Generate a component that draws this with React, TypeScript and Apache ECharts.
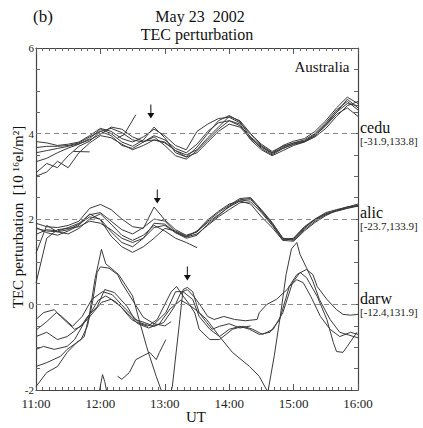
import React, { useEffect, useRef } from 'react';
import * as echarts from 'echarts';

// ---------- axis / label data ----------
const xTickLabels = ['11:00', '12:00', '13:00', '14:00', '15:00', '16:00'];
// minutes after 11:00 UT
const minuteGrid = [0, 10, 20, 30, 40, 50, 60, 70, 80, 90, 100, 110, 120, 130, 140, 150, 160, 170, 180, 190, 200, 210, 220, 230, 240, 250, 260, 270, 280, 290, 300];

const stationNames = ['cedu', 'alic', 'darw'];
const stationCoords = ['[-31.9,133.8]', '[-23.7,133.9]', '[-12.4,131.9]'];
const stationBaselines = [4, 2, 0];
const arrowPoints = [[107, 4.35], [113, 2.36], [141, 0.56]];

// ---------- cedu (offset 4) on 10-minute grid ----------
const cedu1 = [3.81, 3.78, 3.72, 3.75, 3.80, 3.95, 4.12, 4.05, 3.88, 3.80, 3.92, 4.10, 3.95, 3.72, 3.62, 4.05, 4.22, 4.35, 4.38, 4.25, 3.98, 3.75, 3.58, 3.70, 3.78, 3.85, 4.00, 4.25, 4.55, 4.75, 4.55];
const cedu2 = [3.67, 3.70, 3.70, 3.72, 3.78, 3.92, 4.05, 4.12, 4.02, 3.85, 3.80, 3.95, 3.85, 3.65, 3.55, 3.75, 4.05, 4.25, 4.30, 4.18, 3.92, 3.70, 3.52, 3.68, 3.78, 3.82, 3.95, 4.18, 4.45, 4.60, 4.40];
const cedu3 = [3.55, 3.60, 3.65, 3.70, 3.76, 3.85, 3.98, 4.15, 4.10, 3.92, 3.82, 3.85, 3.78, 3.60, 3.50, 3.62, 3.90, 4.15, 4.40, 4.30, 4.00, 3.72, 3.55, 3.72, 3.82, 3.88, 4.05, 4.30, 4.60, 4.85, 4.70];
const cedu4 = [3.34, 3.42, 3.55, 3.66, 3.75, 3.88, 4.10, 4.00, 3.80, 3.70, 3.85, 4.15, 3.90, 3.55, 3.45, 3.68, 4.00, 4.30, 4.42, 4.28, 3.90, 3.65, 3.50, 3.65, 3.75, 3.80, 3.95, 4.20, 4.50, 4.70, 4.65];
const cedu5 = [3.08, 3.30, 3.20, 3.48, 3.70, 3.82, 4.05, 3.95, 3.72, 3.65, 3.80, 3.92, 3.72, 3.48, 3.40, 3.60, 3.85, 4.10, 4.30, 4.22, 3.85, 3.62, 3.48, 3.60, 3.72, 3.80, 3.92, 4.12, 4.40, 4.65, 4.75];
const cedu6 = [3.00, 3.10, 3.35, 3.20, 3.55, 3.78, 3.95, 3.90, 3.75, 3.62, 3.72, 3.85, 3.80, 3.60, 3.45, 3.55, 3.80, 4.05, 4.22, 4.15, 3.88, 3.68, 3.55, 3.65, 3.75, 3.82, 3.98, 4.22, 4.50, 4.80, 4.60];
const ceduFrag1 = [[76, 3.9], [82, 3.97], [93, 4.44]];
const ceduFrag2 = [[35, 3.58], [50, 3.57]];

// ---------- alic (offset 2) on 10-minute grid ----------
const alic1 = [1.90, 1.82, 1.80, 1.85, 1.95, 2.25, 2.34, 2.22, 2.00, 1.82, 1.78, 2.28, 1.98, 1.75, 1.62, 1.70, 1.92, 2.10, 2.28, 2.42, 2.45, 2.20, 1.90, 1.55, 1.52, 1.75, 1.95, 2.10, 2.20, 2.28, 2.32];
const alic2 = [1.64, 1.75, 1.72, 1.80, 1.90, 2.10, 2.15, 1.95, 1.75, 1.65, 1.80, 2.00, 1.95, 1.70, 1.58, 1.65, 1.85, 2.05, 2.22, 2.38, 2.40, 2.15, 1.85, 1.52, 1.55, 1.80, 1.98, 2.12, 2.18, 2.25, 2.30];
const alic3 = [1.78, 1.72, 1.70, 1.75, 1.88, 2.05, 2.00, 1.70, 1.45, 1.35, 1.55, 1.90, 1.88, 1.68, 1.55, 1.62, 1.88, 2.08, 2.30, 2.45, 2.48, 2.18, 1.88, 1.50, 1.48, 1.72, 1.92, 2.08, 2.20, 2.25, 2.32];
const alic4 = [1.80, 1.68, 1.62, 1.72, 1.85, 2.12, 1.98, 1.60, 1.35, 1.22, 1.35, 1.55, 1.78, 1.72, 1.60, 1.70, 1.95, 2.15, 2.32, 2.48, 2.50, 2.22, 1.92, 1.55, 1.50, 1.78, 2.00, 2.15, 2.22, 2.28, 2.35];
const alic5 = [1.20, 1.85, 1.70, 1.65, 1.78, 2.00, 2.12, 1.88, 1.62, 1.50, 1.62, 1.85, 1.72, 1.55, 1.45, 1.33, null, null, null, null, null, null, null, null, null, null, null, null, null, null, null];
const alic6 = [0.50, 1.55, 1.75, 1.78, 1.82, 1.95, 1.90, 1.75, 1.55, 1.45, 1.55, 1.80, 1.85, 1.68, 1.58, 1.72, 1.98, 2.18, 2.35, 2.42, 2.35, 2.05, 1.80, 1.50, 1.55, 1.82, 2.00, 2.12, 2.20, 2.28, 2.30];

// ---------- darw (offset 0), [minute, value] ----------
const darw1 = [[0, -1.92], [10, -1.59], [20, -1.45], [29, -1.12], [38, -0.89], [45, -0.75], [50, -0.2], [55, 0.6], [61, 1.29], [65, 0.95], [70, 0.85], [77, 0.7], [90, 0.2], [96, -0.35], [103, -0.98], [106, -1.22], [112, -1.68], [118, -2.1], [122, -2.4], [127, -1.92], [134, -0.35], [137, 0.35], [141, 0.4], [146, 0.3], [149, 0.05], [152, -0.19], [159, -0.42], [164, -0.58], [171, -0.51], [180, -0.45], [190, -0.55], [200, -0.5]];
const darw2 = [[0, -1.45], [10, -1.36], [23, -1.21], [29, -1.05], [42, -0.82], [48, -0.5], [53, 0.1], [57, 0.75], [60, 0.88], [68, 0.85], [76, 0.7], [80, 0.5], [90, 0.1], [100, -0.3], [110, -0.45], [120, -0.5], [126, -0.4]];
const darw3 = [[0, -0.35], [7, -0.19], [17, -0.12], [23, -0.28], [29, -0.42], [36, -0.58], [42, -0.51], [48, -0.28], [57, -0.05], [64, 0.35], [73, 0.28], [85, -0.05], [92, -0.35], [101, -0.42], [110, -0.51], [119, -0.42], [129, -0.05], [135, 0.28], [141, 0.35], [148, 0.16], [154, -0.05], [160, -0.28], [166, -0.35], [175, -0.28], [185, -0.35], [195, -0.38], [206, -0.35], [208, -0.19], [215, 0], [224, 0.12], [234, 0.35], [243, 0.7], [252, 0.82], [258, 0.7], [262, 0.42], [271, 0.12], [280, -0.12], [286, -0.23], [293, -0.25], [300, -0.23]];
const darw4 = [[0, -0.6], [10, -0.4], [19, -0.19], [24, -0.28], [34, -0.51], [43, -0.28], [52, 0.12], [62, 0.3], [71, 0.23], [84, -0.12], [96, -0.42], [108, -0.51], [121, -0.19], [130, 0.3], [137, 0.3], [146, 0.12], [152, -0.28], [162, -0.58], [171, -0.75], [180, -0.58], [190, -0.51], [199, -0.58], [208, -0.7], [218, -0.65], [227, -0.35], [236, 0.42], [243, 0.58], [249, 0.51], [256, 0.19], [265, -0.28], [274, -0.58], [283, -0.75], [293, -0.65], [300, -0.7]];
const darw5 = [[0, -0.75], [10, -0.65], [20, -0.82], [29, -0.75], [38, -0.58], [48, -0.35], [61, 0.05], [70, 0.12], [79, -0.05], [89, -0.35], [94, -0.42], [104, -0.51], [113, -0.35], [120, 0], [126, 0.3], [131, 0.42], [137, 0.2], [143, 0.0], [148, -0.2], [152, -0.58], [162, -0.82], [171, -0.82], [183, -0.58], [193, -0.51], [202, -0.58], [211, -0.7], [221, -0.58], [230, -0.19], [239, 0.51], [246, 0.75], [252, 0.63], [262, 0.19], [271, -0.35], [277, -0.89], [280, -1.1], [286, -1.12], [290, -0.98], [299, -0.65]];
const darw6 = [[0, -1.05], [7, -0.98], [17, -1.05], [29, -0.98], [36, -0.82], [45, -0.42], [51, -0.19], [58, 0.1], [65, 0.2], [75, 0.05], [85, -0.2], [95, -0.45], [105, -0.55], [115, -0.45], [125, -0.1], [135, 0.1], [145, -0.05], [152, -0.19], [159, -0.35], [171, -0.75], [183, -1.12], [199, -1.45], [208, -1.68], [216, -2.05], [222, -1.2], [228, -0.2], [233, 0.7], [238, 1.3], [243, 1.45], [246, 1.17], [252, 0.86], [258, 0.54], [264, 0.12], [274, -0.35], [283, -0.65], [300, -0.78]];
const darwFrag1 = [[76, -1.68], [80, -1.75], [87, -1.59], [93, -1.29], [99, -1.21], [106, -1.12], [112, -1.29], [115, -1.12], [121, -0.82]];
const darwFrag2 = [[57, -2.3], [62, -1.64], [64, -1.8], [68, -2.3]];

const FONT = 'Liberation Serif';

function onGrid(vals: (number | null)[]) {
  return vals
    .map((v, i) => [minuteGrid[i], v])
    .filter((p) => p[1] !== null);
}

export default function App() {
  const ref = useRef<HTMLDivElement>(null);

  useEffect(() => {
    const chart = echarts.init(ref.current!, null, { renderer: 'svg' });

    const lineSets: any[] = [
      onGrid(cedu1), onGrid(cedu2), onGrid(cedu3), onGrid(cedu4), onGrid(cedu5), onGrid(cedu6),
      ceduFrag1, ceduFrag2,
      onGrid(alic1), onGrid(alic2), onGrid(alic3), onGrid(alic4), onGrid(alic5), onGrid(alic6),
      darw1, darw2, darw3, darw4, darw5, darw6, darwFrag1, darwFrag2,
    ];

    const lineSeries = lineSets.map((d) => ({
      type: 'line',
      data: d,
      showSymbol: false,
      symbol: 'none',
      silent: true,
      clip: true,
      lineStyle: { color: '#3a3a3a', width: 1 },
      z: 3,
    }));

    const markerSeries = {
      type: 'line',
      data: [],
      silent: true,
      clip: false,
      z: 4,
      markLine: {
        symbol: ['none', 'none'],
        silent: true,
        animation: false,
        lineStyle: { type: [5, 4], color: '#8a8a8a', width: 1 },
        label: {
          show: true,
          position: 'end',
          distance: 2,
          rich: {
            n: { fontSize: 16, fontFamily: FONT, color: '#111', lineHeight: 14 },
            c: { fontSize: 11, fontFamily: FONT, color: '#222', lineHeight: 13 },
          },
        },
        data: stationBaselines.map((b, i) => ({
          yAxis: b,
          label: { formatter: `{n|${stationNames[i]}}\n{c|${stationCoords[i]}}` },
        })),
      },
      markPoint: {
        symbol: 'path://M3,0 L4,0 L4,9 L7,9 L3.5,15 L0,9 L3,9 Z',
        symbolSize: [7, 14],
        symbolOffset: [0, '-50%'],
        itemStyle: { color: '#111' },
        label: { show: false },
        animation: false,
        data: arrowPoints.map((p) => ({ coord: p })),
      },
    };

    const axisLineStyle = { color: '#444', width: 1.2 };

    const xBase = {
      type: 'value',
      min: 0,
      max: 300,
      interval: 60,
      axisLine: { show: true, onZero: false, lineStyle: axisLineStyle },
      axisTick: { show: true, inside: true, length: 6, lineStyle: { color: '#555' } },
      minorTick: { show: true, splitNumber: 10, length: 3, lineStyle: { color: '#666' } },
      splitLine: { show: false },
      minorSplitLine: { show: false },
    };
    const yBase = {
      type: 'value',
      min: -2,
      max: 6,
      interval: 2,
      axisLine: { show: true, onZero: false, lineStyle: axisLineStyle },
      axisTick: { show: true, inside: true, length: 5, lineStyle: { color: '#555' } },
      minorTick: { show: true, splitNumber: 4, length: 4, lineStyle: { color: '#666' } },
      splitLine: { show: false },
      minorSplitLine: { show: false },
    };

    const txt = (x: number, y: number, text: string, fontSize: number, extra: any = {}) => ({
      type: 'text',
      x,
      y,
      ...extra,
      style: { text, fontSize, fontFamily: FONT, fill: '#111', textAlign: 'center', textVerticalAlign: 'middle' },
    });

    const option: any = {
      animation: false,
      backgroundColor: '#fff',
      textStyle: { fontFamily: FONT },
      grid: { left: 36, right: 65, top: 48, bottom: 38, containLabel: false },
      xAxis: [
        {
          ...xBase,
          position: 'bottom',
          axisLabel: {
            show: true,
            fontSize: 13,
            fontFamily: FONT,
            color: '#222',
            margin: 7,
            formatter: (v: number) => xTickLabels[Math.round(v / 60)] ?? '',
          },
        },
        { ...xBase, position: 'top', axisLabel: { show: false } },
      ],
      yAxis: [
        {
          ...yBase,
          position: 'left',
          axisLabel: { show: true, fontSize: 11, fontFamily: FONT, color: '#222', margin: 2 },
        },
        { ...yBase, position: 'right', axisLabel: { show: false } },
      ],
      graphic: [
        txt(43, 16, '(b)', 17),
        txt(200, 16, 'May 23  2002', 16),
        txt(197, 34, 'TEC perturbation', 16),
        txt(322, 67, 'Australia', 15),
        txt(196, 417, 'UT', 15),
        txt(18, 217, 'TEC perturbation  [10 ¹⁶el/m²]', 15, { rotation: Math.PI / 2 }),
      ],
      series: [...lineSeries, markerSeries],
    };

    chart.setOption(option);
    return () => chart.dispose();
  }, []);

  return <div ref={ref} style={{ position: 'absolute', left: 0, top: 0, width: 423, height: 428 }} />;
}
